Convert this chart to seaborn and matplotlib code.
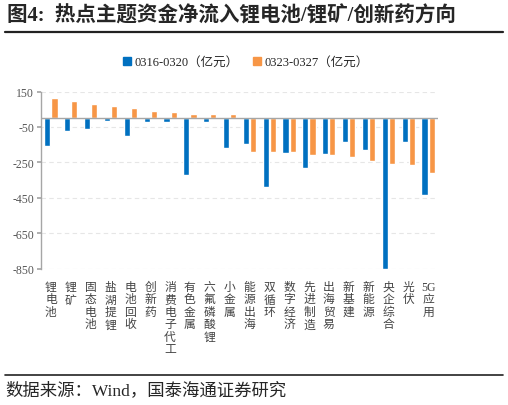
import seaborn as sns
import pandas as pd
import numpy as np
import matplotlib.pyplot as plt
from matplotlib.lines import Line2D
from matplotlib.patches import Patch

# 热点主题资金净流入（亿元）
categories = ['锂电池', '锂矿', '固态电池', '盐湖提锂', '电池回收', '创新药', '消费电子代工',
              '有色金属', '六氟磷酸锂', '小金属', '能源出海', '双循环', '数字经济', '先进制造',
              '出海贸易', '新基建', '新能源', '央企综合', '光伏', '5G应用']
week1 = [-157, -75, -64, -15, -104, -21, -25, -319, -21, -170, -145,
         -389, -196, -283, -204, -136, -179, -850, -136, -436]
week2 = [111, 96, 79, 70, 57, 38, 32, 25, 23, 23, -189,
         -191, -194, -209, -209, -219, -243, -262, -268, -309]
series_names = ['0316-0320（亿元）', '0323-0327（亿元）']
yticks = [150, -50, -250, -450, -650, -850]

df = pd.DataFrame({
    'cat': categories * 2,
    'val': week1 + week2,
    'series': [series_names[0]] * len(categories) + [series_names[1]] * len(categories),
})

sns.set_theme(style='white')
plt.rcParams['font.family'] = ['Liberation Serif', 'Noto Sans CJK SC']
plt.rcParams['axes.unicode_minus'] = False

blue = '#0070C0'
orange = '#F79646'

fig = plt.figure(figsize=(5.08, 4.06), dpi=100)
ax = fig.add_axes([41 / 508, 1 - 269.5 / 406, 397 / 508, 177 / 406])

sns.barplot(data=df, x='cat', y='val', hue='series', palette=[blue, orange],
            width=0.72, gap=0.14, ax=ax, legend=False, saturation=1)

ax.set_ylim(-850, 150)
ax.set_xlim(-0.5, len(categories) - 0.5)
ax.set_yticks(yticks)
ax.set_yticklabels([str(t) for t in yticks], fontsize=8.5, color='#555555')
for t in yticks:
    ax.axhline(t, color='#e6e6e6', lw=0.8, ls=(0, (4, 3)), zorder=0)
ax.axhline(0, color='#a6a6a6', lw=1.0, zorder=3)

labels = []
for c in categories:
    if c == '5G应用':
        labels.append('5G\n应\n用')
    else:
        labels.append('\n'.join(c))
ax.set_xticks(range(len(categories)))
ax.set_xticklabels(labels, fontsize=8.5, linespacing=1.05, va='top', color='#444444')
ax.tick_params(axis='x', length=0, pad=9)
ax.tick_params(axis='y', length=3, color='#a6a6a6', left=True, pad=2)
ax.set_xlabel('')
ax.set_ylabel('')
for s in ['top', 'right', 'bottom']:
    ax.spines[s].set_visible(False)
ax.spines['left'].set_color('#a6a6a6')
ax.spines['left'].set_linewidth(1.0)

# 标题与分隔线
fig.text(7 / 508, 1 - 16 / 406, '图4:  热点主题资金净流入锂电池/锂矿/创新药方向',
         fontsize=14.8, fontweight='bold', va='center', ha='left')
fig.add_artist(Line2D([5 / 508, 503 / 508], [1 - 33 / 406, 1 - 33 / 406],
                      color='#222222', lw=1.6))
fig.add_artist(Line2D([5 / 508, 503 / 508], [1 - 376 / 406, 1 - 376 / 406],
                      color='#222222', lw=1.2))
fig.text(5 / 508, 1 - 391 / 406, '数据来源：Wind，国泰海通证券研究',
         fontsize=12.5, va='center', ha='left')

handles = [Patch(color=blue), Patch(color=orange)]
fig.legend(handles, series_names, loc='center', bbox_to_anchor=(246 / 508, 1 - 63 / 406),
           ncol=2, frameon=False, fontsize=9, handlelength=0.6, handleheight=0.6,
           handletextpad=0.3, columnspacing=1.2)

fig.savefig('out.png', dpi=100)
